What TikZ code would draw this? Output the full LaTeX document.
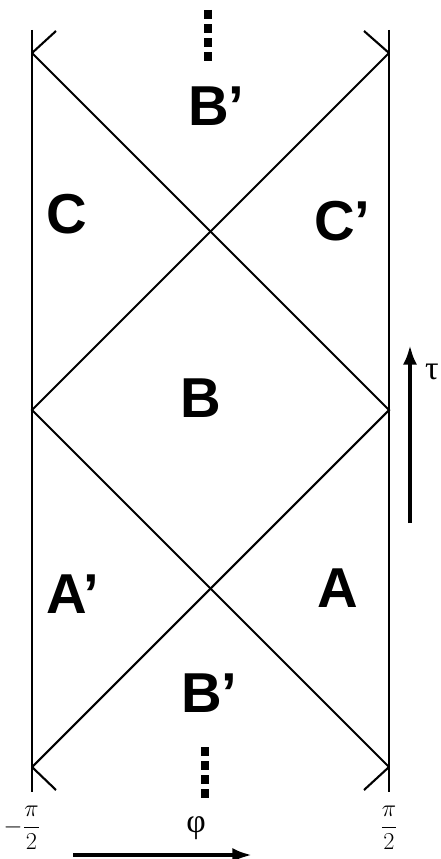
\documentclass[tikz,border=0pt]{standalone}
\usepackage{fontspec}
\setmainfont{Liberation Sans}
\newfontfamily\greekfont{Liberation Serif}
\usetikzlibrary{arrows.meta}

\begin{document}
\begin{tikzpicture}[x=0.025cm, y=-0.025cm,
      wall/.style={line width=1.8pt},
      ray/.style={line width=1.5pt},
      dots/.style={line width=5.5pt, dash pattern=on 6.5pt off 3.5pt},
      region/.style={anchor=base west, inner sep=0pt, font=\fontsize{40}{44}\selectfont\bfseries},
      axis/.style={-{Latex[length=14pt, width=10pt]}, line width=3.5pt},
      greek/.style={inner sep=0pt, font=\fontsize{24}{26}\selectfont\greekfont},
      edge/.style={inner sep=0pt, font=\fontsize{18}{20}\selectfont}
    ]
      \useasboundingbox (0,0) rectangle (440,859);
      % boundary walls
      \coordinate (wlt) at (32,30);   \coordinate (wlb) at (32,792);
      \coordinate (wrt) at (389,30);  \coordinate (wrb) at (389,792);
      \draw[wall] (wlt)--(wlb);
      \draw[wall] (wrt)--(wrb);
      % corners of the light cones
      \coordinate (lt) at (32,53);   \coordinate (rt) at (389,53);
      \coordinate (lm) at (32,410);  \coordinate (rm) at (389,410);
      \coordinate (lb) at (32,767);  \coordinate (rb) at (389,767);
      \draw[ray] (lt)--(rm)--(lb);
      \draw[ray] (rt)--(lm)--(rb);
      % stubs
      \draw[ray] (lt)--(56,31);
      \draw[ray] (rt)--(364,31);
      \draw[ray] (lb)--(56,790);
      \draw[ray] (rb)--(364,790);
      % continuation
      \coordinate (ct) at (208,10);  \coordinate (cb) at (205,747);
      \draw[dots] (ct)--++(0,51);
      \draw[dots] (cb)--++(0,51);
      % regions
      \node[region] (btop) at (188,126) {B’};
      \node[region] (c)    at (46,234)  {C};
      \node[region] (cp)   at (314,241) {C’};
      \node[region] (b)    at (180,417) {B};
      \node[region] (ap)   at (46,613)  {A’};
      \node[region] (a)    at (317,607) {A};
      \node[region] (bbot) at (181,712) {B’};
      % axes
      \coordinate (tau0) at (410,523); \coordinate (tau1) at (410,345);
      \draw[axis] (tau0)--(tau1);
      \node[greek] (tau) at (432,372) {τ};
      \coordinate (phi0) at (73,855); \coordinate (phi1) at (252,855);
      \draw[axis] (phi0)--(phi1);
      \node[greek] (phi) at (196,828) {φ};
      \node[edge] (lo) at (22,828) {$\displaystyle -\frac{\pi}{2}$};
      \node[edge] (hi) at (389,828) {$\displaystyle \frac{\pi}{2}$};
    \end{tikzpicture}
\end{document}
